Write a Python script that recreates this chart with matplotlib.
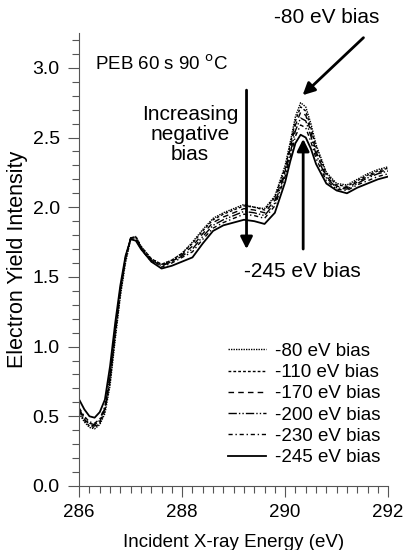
import matplotlib
matplotlib.use('Agg')
import matplotlib.pyplot as plt
from matplotlib.ticker import MultipleLocator

plt.rcParams['font.family'] = ['Liberation Sans', 'DejaVu Sans']

energy = [286.0, 286.1, 286.2, 286.3, 286.4, 286.5, 286.6, 286.7, 286.8, 286.9,
          287.0, 287.1, 287.2, 287.4, 287.6, 287.8, 288.0, 288.2, 288.4, 288.6,
          288.8, 289.0, 289.2, 289.4, 289.6, 289.8, 290.0, 290.1, 290.2, 290.3,
          290.4, 290.5, 290.6, 290.8, 291.0, 291.2, 291.4, 291.6, 291.8, 292.0]

bias_80 = [0.52, 0.46, 0.42, 0.41, 0.44, 0.52, 0.72, 1.05, 1.36, 1.60,
           1.77, 1.79, 1.72, 1.63, 1.59, 1.62, 1.67, 1.75, 1.84, 1.92,
           1.96, 1.99, 2.02, 2.00, 1.99, 2.08, 2.30, 2.47, 2.65, 2.75,
           2.72, 2.60, 2.45, 2.25, 2.17, 2.16, 2.20, 2.24, 2.27, 2.29]
bias_110 = [0.53, 0.47, 0.43, 0.42, 0.45, 0.54, 0.75, 1.08, 1.38, 1.62,
            1.78, 1.79, 1.72, 1.63, 1.59, 1.62, 1.67, 1.74, 1.83, 1.91,
            1.95, 1.98, 2.01, 2.00, 1.98, 2.07, 2.28, 2.45, 2.62, 2.72,
            2.69, 2.57, 2.43, 2.24, 2.16, 2.15, 2.19, 2.23, 2.26, 2.28]
bias_170 = [0.54, 0.48, 0.44, 0.43, 0.46, 0.55, 0.77, 1.10, 1.40, 1.63,
            1.78, 1.78, 1.71, 1.62, 1.58, 1.61, 1.66, 1.72, 1.81, 1.89,
            1.93, 1.96, 1.99, 1.98, 1.96, 2.05, 2.26, 2.42, 2.59, 2.68,
            2.66, 2.54, 2.40, 2.22, 2.15, 2.14, 2.18, 2.22, 2.25, 2.27]
bias_200 = [0.55, 0.49, 0.45, 0.44, 0.47, 0.56, 0.79, 1.12, 1.41, 1.64,
            1.78, 1.78, 1.71, 1.62, 1.58, 1.61, 1.65, 1.70, 1.79, 1.87,
            1.91, 1.94, 1.97, 1.96, 1.94, 2.03, 2.24, 2.39, 2.55, 2.64,
            2.62, 2.51, 2.38, 2.21, 2.14, 2.13, 2.17, 2.21, 2.24, 2.26]
bias_230 = [0.56, 0.50, 0.46, 0.45, 0.48, 0.57, 0.80, 1.13, 1.42, 1.64,
            1.77, 1.77, 1.70, 1.61, 1.57, 1.60, 1.64, 1.68, 1.77, 1.85,
            1.89, 1.92, 1.95, 1.94, 1.92, 2.01, 2.22, 2.36, 2.51, 2.59,
            2.57, 2.47, 2.35, 2.19, 2.13, 2.12, 2.16, 2.19, 2.22, 2.24]
bias_245 = [0.62, 0.55, 0.50, 0.49, 0.53, 0.62, 0.86, 1.17, 1.44, 1.65,
            1.77, 1.76, 1.70, 1.61, 1.56, 1.58, 1.61, 1.64, 1.74, 1.83,
            1.87, 1.89, 1.91, 1.90, 1.88, 1.96, 2.18, 2.33, 2.46, 2.52,
            2.50, 2.42, 2.31, 2.17, 2.12, 2.10, 2.14, 2.17, 2.20, 2.22]

labels = ['-80 eV bias', '-110 eV bias', '-170 eV bias',
          '-200 eV bias', '-230 eV bias', '-245 eV bias']


def main():
    fig = plt.figure(figsize=(4.06, 5.5), dpi=100)
    ax = fig.add_axes([0.195, 0.1164, 0.761, 0.8236])

    series = [bias_80, bias_110, bias_170, bias_200, bias_230, bias_245]
    styles = [(0, (1, 0.8)), (0, (2, 1.5)), (0, (4, 3)),
              (0, (6, 1.5, 1, 1.5, 1, 1.5)), (0, (3, 2, 1, 2)), '-']
    widths = [1.0, 1.0, 1.0, 1.0, 1.0, 1.3]
    for vals, lab, ls, lw in zip(series, labels, styles, widths):
        ax.plot(energy, vals, color='black', linestyle=ls, linewidth=lw, label=lab)

    ax.set_xlim(286, 292)
    ax.set_ylim(0, 3.25)
    ax.spines['top'].set_visible(False)
    ax.spines['right'].set_visible(False)
    ax.spines['left'].set_color('#555555')
    ax.spines['bottom'].set_color('#555555')
    ax.xaxis.set_major_locator(MultipleLocator(2))
    ax.xaxis.set_minor_locator(MultipleLocator(0.2))
    ax.yaxis.set_major_locator(MultipleLocator(0.5))
    ax.yaxis.set_minor_locator(MultipleLocator(0.1))
    ax.yaxis.set_major_formatter(plt.FormatStrFormatter('%.1f'))
    ax.tick_params(which='major', direction='out', length=8, width=0.8,
                   color='#555555', labelsize=14)
    ax.tick_params(which='minor', direction='out', length=5, width=0.8,
                   color='#555555')
    ax.tick_params(axis='y', pad=6)
    ax.tick_params(axis='x', pad=5, labelsize=13.5)

    ax.set_xlabel('Incident X-ray Energy (eV)', fontsize=13.5)
    ax.set_ylabel('Electron Yield Intensity', fontsize=15.5)
    ax.xaxis.set_label_coords(0.5, -0.106)
    ax.yaxis.set_label_coords(-0.165, 0.5)

    ax.text(0.05, 0.93, 'PEB 60 s 90 $^{\\mathrm{o}}$C', transform=ax.transAxes,
            fontsize=13.5, va='center')

    ax.annotate('', xy=(290.3, 2.79), xytext=(291.56, 3.23),
                arrowprops=dict(arrowstyle='-|>', color='black', lw=2,
                                mutation_scale=18), annotation_clip=False)
    ax.text(290.8, 3.36, '-80 eV bias', fontsize=15, ha='center', va='center',
            clip_on=False)

    ax.annotate('', xy=(289.25, 1.68), xytext=(289.25, 2.86),
                arrowprops=dict(arrowstyle='-|>', color='black', lw=2,
                                mutation_scale=18))
    ax.text(288.15, 2.52, 'Increasing\nnegative\nbias', fontsize=15,
            ha='center', va='center', linespacing=1.05)

    ax.annotate('', xy=(290.35, 2.51), xytext=(290.35, 1.68),
                arrowprops=dict(arrowstyle='-|>', color='black', lw=2,
                                mutation_scale=18))
    ax.text(290.33, 1.54, '-245 eV bias', fontsize=15, ha='center', va='center')

    ax.legend(loc='lower right', bbox_to_anchor=(1.0, 0.027), frameon=False,
              fontsize=13.5, handlelength=2.0, handletextpad=0.5,
              labelspacing=0.22, borderaxespad=0.0)

    fig.savefig('out.png', dpi=100)


if __name__ == '__main__':
    main()
